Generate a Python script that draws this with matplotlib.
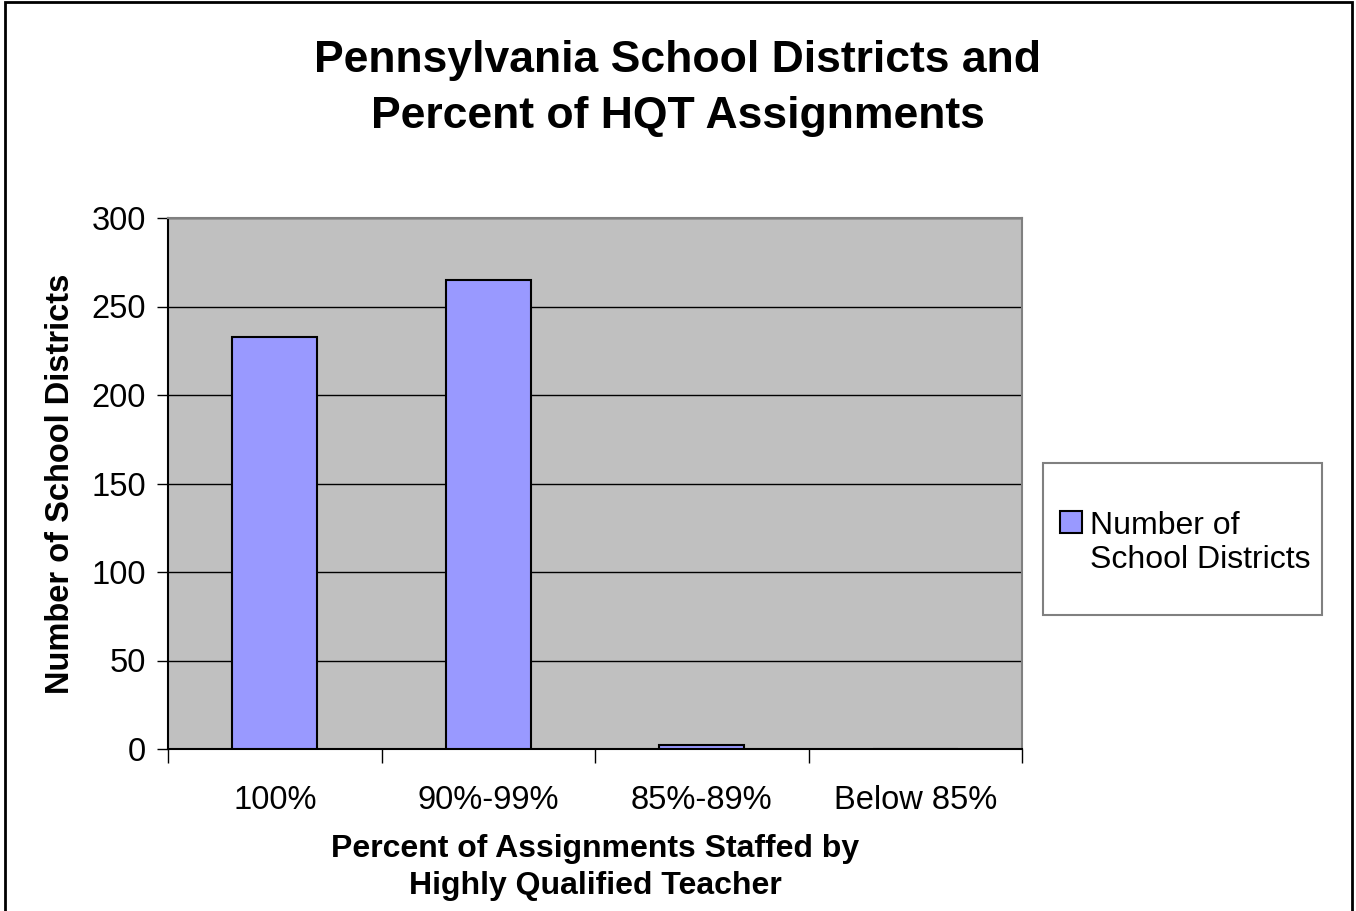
import matplotlib.pyplot as plt
from matplotlib.patches import Rectangle
from matplotlib.container import BarContainer
from matplotlib.legend_handler import HandlerPatch, update_from_first_child

plt.rcParams['font.family'] = ['Liberation Sans', 'DejaVu Sans']

categories = ['100%', '90%-99%', '85%-89%', 'Below 85%']
districts = [233, 265, 2, 0]
series_name = 'Number of\nSchool Districts'

fig = plt.figure(figsize=(13.56, 9.11), dpi=100)
# outer chart border
fig.patches.append(Rectangle((5 / 1356, -0.01), 1347 / 1356, 1.0 - 2 / 911 + 0.01,
                             transform=fig.transFigure, fill=False,
                             edgecolor='black', linewidth=2))

ax = fig.add_axes([168 / 1356, 1 - 749 / 911, 854 / 1356, 531 / 911])
ax.set_facecolor('#c0c0c0')

x = range(len(categories))
ax.bar(x, districts, width=0.4, color='#9999ff', edgecolor='black',
       linewidth=1.5, label=series_name, zorder=3)

ax.set_xlim(-0.5, len(categories) - 0.5)
ax.set_ylim(0, 300)
ax.set_yticks(range(0, 301, 50))
ax.yaxis.grid(True, color='black', linewidth=1, zorder=1)
# tick marks between categories, labels under the bars
ax.set_xticks([i + 0.5 for i in range(-1, len(categories))])
ax.set_xticklabels([])
ax.set_xticks(list(x), minor=True)
ax.set_xticklabels(categories, minor=True, fontsize=23.5)
ax.tick_params(axis='x', which='major', length=10, width=1, direction='out')
ax.tick_params(axis='x', which='minor', length=0, pad=26)
ax.tick_params(axis='y', length=8, width=1, labelsize=23.5, pad=8)

for side in ['top', 'right']:
    ax.spines[side].set_color('#808080')
    ax.spines[side].set_linewidth(1.5)
ax.spines['left'].set_linewidth(1.5)
ax.spines['bottom'].set_linewidth(1.5)

ax.set_ylabel('Number of School Districts', fontsize=23.5, fontweight='bold', labelpad=11)
ax.set_xlabel('Percent of Assignments Staffed by\nHighly Qualified Teacher',
              fontsize=23, fontweight='bold', labelpad=13, linespacing=1.3)

fig.text(0.5, 0.9027, 'Pennsylvania School Districts and\nPercent of HQT Assignments',
         ha='center', va='center', fontsize=32, fontweight='bold', linespacing=1.47)


def top_aligned(legend, orig_handle, xdescent, ydescent, width, height, fontsize):
    # lift the swatch up to the first line of the label
    return Rectangle((-xdescent, -ydescent + 15), width, height)


# legend box
fig.patches.append(Rectangle((1043 / 1356, 1 - 615 / 911), 279 / 1356, 152 / 911,
                             transform=fig.transFigure, fill=False,
                             edgecolor='#808080', linewidth=1.5))
leg = ax.legend(loc='center left', bbox_to_anchor=(1060 / 1356, 1 - 543 / 911),
                bbox_transform=fig.transFigure, fontsize=23, frameon=False,
                borderaxespad=0, borderpad=0, handlelength=0.68, handleheight=0.68,
                handletextpad=0.26,
                handler_map={BarContainer: HandlerPatch(patch_func=top_aligned,
                                                        update_func=update_from_first_child)})

fig.savefig('out.png', dpi=100)
